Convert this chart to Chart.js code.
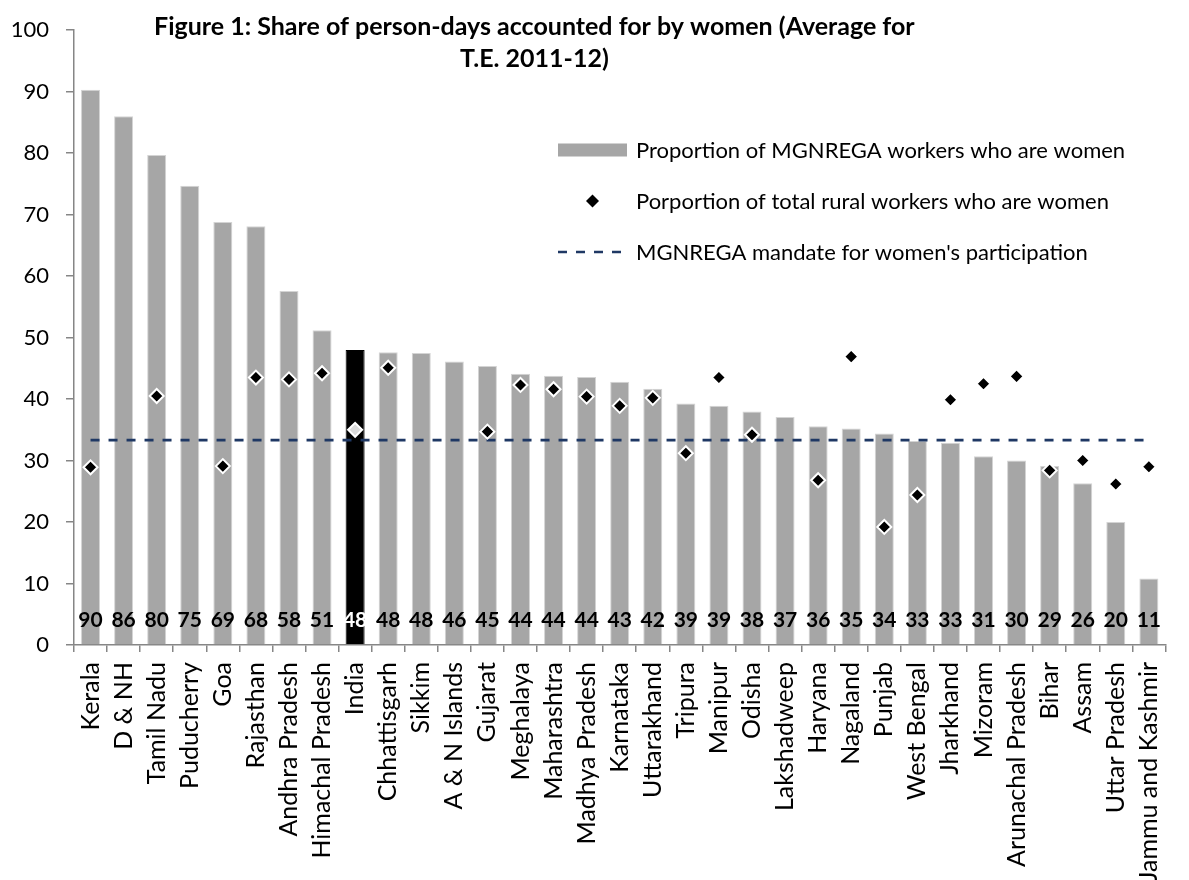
<!DOCTYPE html>
<html>
<head>
<meta charset="utf-8">
<title>Share of person-days accounted for by women</title>
<script src="https://cdn.jsdelivr.net/npm/chart.js@4.4.1/dist/chart.umd.min.js"></script>
<style>
  html, body { margin: 0; padding: 0; background: #fff; }
  #wrap { width: 1189px; height: 880px; position: relative; }
</style>
</head>
<body>
<div id="wrap"><canvas id="chart" width="1189" height="880"></canvas></div>
<script>
// categories, left to right
const states = ['Kerala', 'D & NH', 'Tamil Nadu', 'Puducherry', 'Goa', 'Rajasthan',
  'Andhra Pradesh', 'Himachal Pradesh', 'India', 'Chhattisgarh', 'Sikkim', 'A & N Islands',
  'Gujarat', 'Meghalaya', 'Maharashtra', 'Madhya Pradesh', 'Karnataka', 'Uttarakhand',
  'Tripura', 'Manipur', 'Odisha', 'Lakshadweep', 'Haryana', 'Nagaland', 'Punjab',
  'West Bengal', 'Jharkhand', 'Mizoram', 'Arunachal Pradesh', 'Bihar', 'Assam',
  'Uttar Pradesh', 'Jammu and Kashmir'];

// share of MGNREGA person-days by women (bars)
const mgnregaShare = [90.3, 86.0, 79.7, 74.7, 68.8, 68.1, 57.6, 51.2, 48.0, 47.6, 47.5, 46.1,
  45.4, 44.1, 43.8, 43.6, 42.8, 41.7, 39.3, 38.9, 38.0, 37.1, 35.6, 35.2, 34.4,
  33.2, 32.9, 30.7, 30.0, 29.1, 26.3, 20.0, 10.8];

// share of total rural workers who are women (diamonds), null where not shown
const ruralShare = [28.9, null, 40.5, null, 29.1, 43.5, 43.2, 44.2, 35.0, 45.1, null, null,
  34.7, 42.3, 41.6, 40.4, 38.9, 40.2, 31.2, 43.5, 34.2, null, 26.8, 46.9, 19.2,
  24.4, 39.9, 42.5, 43.7, 28.4, 30.0, 26.2, 29.0];

// mandate: one third of person-days
const mandate = 33.33;

const yTicks = [0, 10, 20, 30, 40, 50, 60, 70, 80, 90, 100];

const titleLines = ['Figure 1: Share of person-days accounted for by women (Average for', 'T.E. 2011-12)'];
const legendLabels = ['Proportion of MGNREGA workers who are women',
  'Porportion of total rural workers who are women',
  "MGNREGA mandate for women's participation"];

const FONT = 'Lato, "Open Sans", sans-serif';
const barGrey = '#a6a6a6';
const navy = '#1f3864';
const axisGrey = '#868686';

const barColors = states.map(s => s === 'India' ? '#000000' : barGrey);
const barBorders = states.map(s => s === 'India' ? '#000000' : '#d4d4d4');
const diamondFill = states.map(s => s === 'India' ? '#d9d9d9' : '#000000');

// value labels at the foot of each bar
const barLabels = {
  id: 'barLabels',
  afterDatasetsDraw(chart) {
    const ctx = chart.ctx;
    const meta = chart.getDatasetMeta(2);
    const y0 = chart.scales.y.getPixelForValue(0);
    ctx.save();
    ctx.font = 'bold 21px ' + FONT;
    ctx.textAlign = 'center';
    ctx.textBaseline = 'alphabetic';
    meta.data.forEach((bar, i) => {
      ctx.fillStyle = states[i] === 'India' ? '#ffffff' : '#000000';
      ctx.fillText(String(Math.round(mgnregaShare[i])), bar.x, y0 - 18);
    });
    ctx.restore();
  }
};

// title and legend sit inside the plot, as in the original
const overlay = {
  id: 'overlay',
  afterDraw(chart) {
    const ctx = chart.ctx;
    ctx.save();
    ctx.fillStyle = '#000';
    ctx.textBaseline = 'alphabetic';
    ctx.font = 'bold 25px ' + FONT;
    ctx.textAlign = 'left';
    ctx.fillText(titleLines[0], 154, 35);
    const w0 = ctx.measureText(titleLines[0]).width;
    ctx.textAlign = 'center';
    ctx.fillText(titleLines[1], 154 + w0 / 2, 67);

    const sx = 558, sw = 69, tx = 636;
    const rows = [150, 201, 252];
    // bar swatch
    ctx.fillStyle = barGrey;
    ctx.fillRect(sx, rows[0] - 6.5, sw, 13);
    // diamond swatch
    const cx = sx + sw / 2, r = 6.5;
    ctx.fillStyle = '#000';
    ctx.beginPath();
    ctx.moveTo(cx, rows[1] - r);
    ctx.lineTo(cx + r, rows[1]);
    ctx.lineTo(cx, rows[1] + r);
    ctx.lineTo(cx - r, rows[1]);
    ctx.closePath();
    ctx.fill();
    // dashed swatch
    ctx.strokeStyle = navy;
    ctx.lineWidth = 2.7;
    ctx.setLineDash([9, 9]);
    ctx.beginPath();
    ctx.moveTo(sx, rows[2]);
    ctx.lineTo(sx + sw, rows[2]);
    ctx.stroke();
    ctx.setLineDash([]);

    ctx.fillStyle = '#000';
    ctx.textAlign = 'left';
    ctx.font = '22px ' + FONT;
    legendLabels.forEach((t, i) => ctx.fillText(t, tx, rows[i] + 8));
    ctx.restore();
  }
};

function build() {
  new Chart(document.getElementById('chart'), {
    data: {
      labels: states,
      datasets: [
        {
          type: 'line',
          label: legendLabels[1],
          data: ruralShare,
          showLine: false,
          pointStyle: 'rectRot',
          pointRadius: 7,
          pointBackgroundColor: diamondFill,
          pointBorderColor: '#ffffff',
          pointBorderWidth: 2,
          order: 1
        },
        {
          type: 'line',
          label: legendLabels[2],
          data: states.map(() => mandate),
          borderColor: navy,
          borderWidth: 2.7,
          borderDash: [9, 9],
          pointRadius: 0,
          fill: false,
          order: 2
        },
        {
          type: 'bar',
          label: legendLabels[0],
          data: mgnregaShare,
          backgroundColor: barColors,
          borderColor: barBorders,
          borderWidth: 1,
          barPercentage: 0.575,
          categoryPercentage: 1.0,
          order: 3
        }
      ]
    },
    options: {
      responsive: false,
      animation: false,
      layout: { padding: { top: 30, right: 4, left: 0, bottom: 0 } },
      plugins: {
        legend: { display: false },
        title: { display: false },
        tooltip: { enabled: false }
      },
      scales: {
        x: {
          offset: true,
          grid: { offset: true, drawOnChartArea: false, color: axisGrey, tickLength: 7, lineWidth: 1.5 },
          border: { color: axisGrey, width: 1.5 },
          ticks: {
            color: '#000',
            font: { family: FONT, size: 25 },
            minRotation: 90,
            maxRotation: 90,
            autoSkip: false,
            padding: 10
          },
          afterFit(scale) { scale.height = 235; }
        },
        y: {
          min: 0,
          max: 100,
          afterBuildTicks(scale) { scale.ticks = yTicks.map(v => ({ value: v })); },
          grid: { drawOnChartArea: false, color: axisGrey, tickLength: 8, lineWidth: 1.5 },
          border: { color: axisGrey, width: 1.5 },
          ticks: {
            color: '#000',
            font: { family: FONT, size: 22 },
            padding: 17
          },
          afterFit(scale) { scale.width = 74; }
        }
      }
    },
    plugins: [barLabels, overlay]
  });
}

document.fonts.load('20px Lato').then(build, build);
</script>
</body>
</html>
